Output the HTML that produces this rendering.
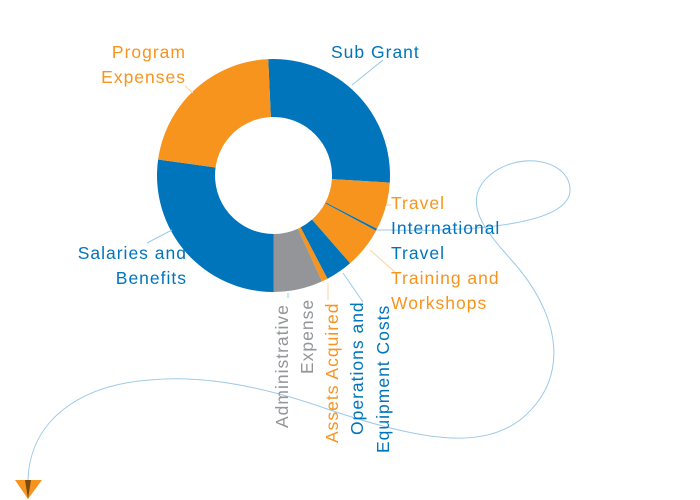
<!DOCTYPE html>
<html><head><meta charset="utf-8"><style>
html,body{margin:0;padding:0;background:#fff;width:700px;height:500px;overflow:hidden}
svg{display:block}
text{font-family:"Liberation Sans",sans-serif;font-size:17.5px;letter-spacing:1px}
.b{fill:#0075BB}.o{fill:#F7941D}.g{fill:#939598}
</style></head><body>
<svg id="s" width="700" height="500" viewBox="0 0 700 500">
<g id="donut"></g>
<g stroke="#9cc9e8" stroke-width="1" fill="none">
<path d="M376,230 L390,230 C470,232 570,225 570,190 C570,160 520,150 490,175 C455,205 495,240 520,270 C560,320 570,380 520,420 C480,450 420,440 330,410 C260,385 200,375 150,380 C80,385 30,420 28,480"/>
<line x1="352" y1="85" x2="383" y2="60"/>
<line x1="147" y1="243" x2="172" y2="230"/>
<line x1="343" y1="273" x2="363" y2="302"/>
<line x1="288" y1="293" x2="288" y2="298"/>
</g>
<g stroke="#fbd3a4" stroke-width="1" fill="none">
<line x1="185" y1="86" x2="193" y2="93"/>
<line x1="370" y1="250" x2="395" y2="272"/>
<line x1="328" y1="283" x2="328" y2="300"/>
<line x1="386" y1="205" x2="391" y2="205"/>
</g>
<polygon points="15,480 42,480 28,499" fill="#F7941D"/>
<polygon points="25,480 31,480 28,499" fill="#7a4a10"/>
<text class="o" x="186" y="58" text-anchor="end">Program</text>
<text class="o" x="186" y="83" text-anchor="end">Expenses</text>
<text class="b" x="331" y="58">Sub Grant</text>
<text class="o" x="391" y="209">Travel</text>
<text class="b" x="391" y="234">International</text>
<text class="b" x="391" y="259">Travel</text>
<text class="o" x="391" y="284">Training and</text>
<text class="o" x="391" y="309">Workshops</text>
<text class="b" x="187" y="259" text-anchor="end">Salaries and</text>
<text class="b" x="187" y="284" text-anchor="end">Benefits</text>
<text class="g" transform="translate(288,428) rotate(-90)">Administrative</text>
<text class="g" transform="translate(313,374) rotate(-90)">Expense</text>
<text class="o" transform="translate(338,443) rotate(-90)">Assets Acquired</text>
<text class="b" transform="translate(363,435) rotate(-90)">Operations and</text>
<text class="b" transform="translate(389,453) rotate(-90)">Equipment Costs</text>
</svg>
<script>
var cx=273.5,cy=175.5,R=116.5,r=58.5;
var segs=[[-2.6,93.5,"#0075BB"],[93.5,117.3,"#F7941D"],[117.3,118.3,"#0075BB"],[118.3,138.9,"#F7941D"],[138.9,152.4,"#0075BB"],[152.4,155.4,"#F7941D"],[155.4,180,"#939598"],[180,277.9,"#0075BB"],[277.9,357.4,"#F7941D"]];
function p(a,rad){a=a*Math.PI/180;return [(cx+rad*Math.sin(a)).toFixed(2),(cy-rad*Math.cos(a)).toFixed(2)];}
var g=document.getElementById("donut"),h="";
segs.forEach(function(s){var l=(s[1]-s[0])>180?1:0;var a=p(s[0],R),b=p(s[1],R),c=p(s[1],r),d=p(s[0],r);
h+='<path fill="'+s[2]+'" d="M'+a+' A'+R+','+R+' 0 '+l+' 1 '+b+' L'+c+' A'+r+','+r+' 0 '+l+' 0 '+d+' Z"/>';});
g.innerHTML=h;
</script>
</body></html>
